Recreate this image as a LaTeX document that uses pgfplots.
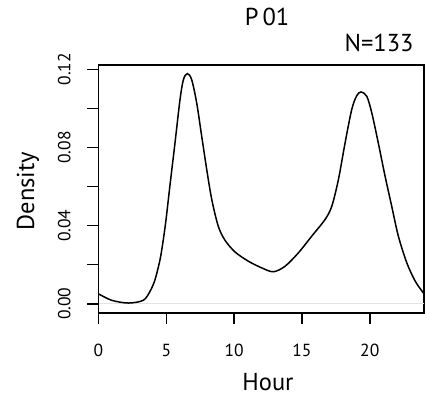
\documentclass[border=0pt]{standalone}
\usepackage{fontspec}
\setmainfont{PT Sans}
\usepackage{pgfplots}
\pgfplotsset{compat=1.18}
\begin{document}
\begin{tikzpicture}[x=1pt,y=1pt]
\begin{axis}[
  at={(98.5pt,86pt)}, anchor=south west,
  scale only axis, width=325.5pt, height=248pt,
  xmin=0, xmax=24, ymin=-0.0047, ymax=0.1222,
  axis line style={line width=1.5pt},
  tick align=outside, major tick length=11pt,
  tick style={line width=1.5pt, black},
  xtick pos=bottom, ytick pos=left,
  xtick={0,5,10,15,20},
  ytick={0,0.02,0.04,0.06,0.08,0.10,0.12},
  yticklabels={0.00,,0.04,,0.08,,0.12},
  /pgf/number format/assume math mode=true,
  xticklabel style={font=\fontsize{17.5}{17.5}\selectfont, anchor=base, yshift=-32pt},
  yticklabel style={font=\fontsize{17.5}{17.5}\selectfont, xshift=-17pt, rotate=90, anchor=base},
  clip=true,
]
\addplot[gray!22, line width=0.8pt] coordinates {(0,0) (24,0)};
\addplot[black, line width=1.5pt, smooth] coordinates {
(0,0.0051) (0.97,0.0018) (2.2,0.0004) (3.3,0.0018) (3.8,0.0064) (4.17,0.0124)
(4.54,0.0227) (4.78,0.0329) (4.98,0.0431) (5.15,0.0534) (5.32,0.0636) (5.64,0.0823) (6.01,0.1045) (6.26,0.1147)
(6.55,0.1178) (6.87,0.1147) (7.24,0.1028) (7.61,0.0857) (7.98,0.0687) (8.35,0.0534)
(8.83,0.0397) (9.33,0.0325) (10.07,0.0265) (11.05,0.0218) (12.03,0.0184) (12.89,0.0164)
(13.75,0.0192) (14.74,0.0261) (15.72,0.0346) (16.7,0.0431) (17.2,0.0499) (17.69,0.0636)
(18.18,0.0823) (18.67,0.0994) (19.04,0.1065) (19.36,0.1084) (19.78,0.1062) (20.15,0.0977)
(20.63,0.0823) (21.13,0.0653) (21.62,0.0499) (22.11,0.0346) (22.73,0.021) (23.35,0.0116)
(23.95,0.0056) (24,0.0053)
};
\end{axis}
\node[anchor=base, font=\fontsize{24.5}{24.5}\selectfont] at (268,9) {Hour};
\node[anchor=base, rotate=90, font=\fontsize{24.5}{24.5}\selectfont] at (34,208) {Density};
\node[anchor=base, font=\fontsize{24.5}{24.5}\selectfont] at (267,373) {P\,01};
\node[anchor=base east, font=\fontsize{24.5}{24.5}\selectfont] at (417,347) {N=133};
\pgfresetboundingbox
\path[use as bounding box] (0,0) rectangle (425,399);
\end{tikzpicture}
\end{document}
